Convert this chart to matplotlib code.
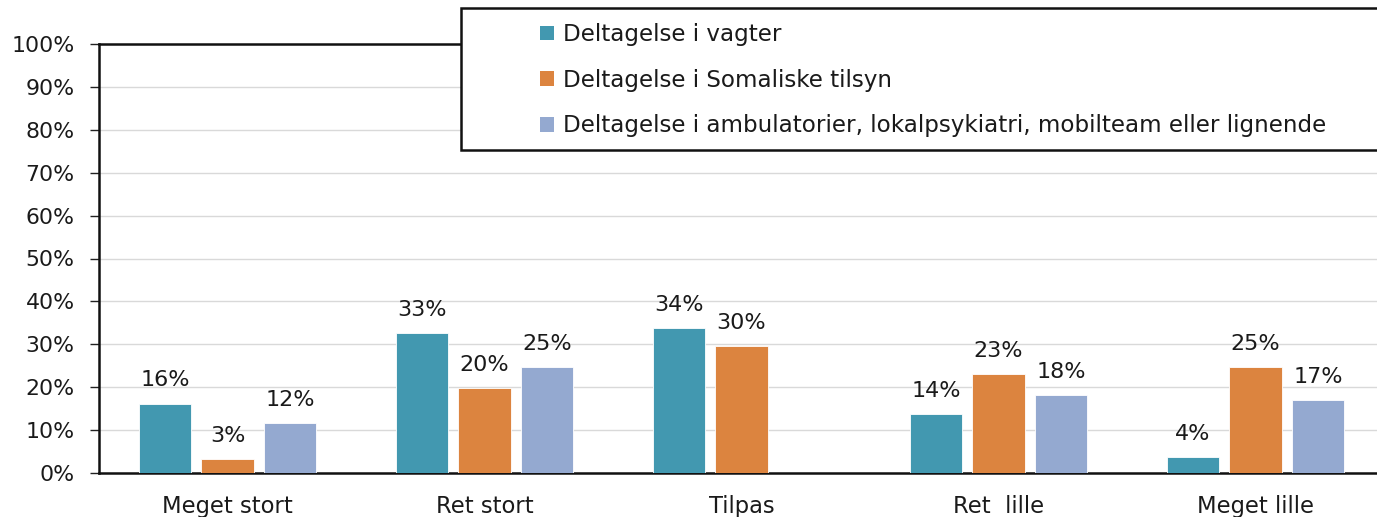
import numpy as np
import matplotlib
matplotlib.use("Agg")
import matplotlib.pyplot as plt
from matplotlib.patches import Patch, Rectangle

categories = ["Meget stort", "Ret stort", "Tilpas", "Ret  lille", "Meget lille"]
series_names = [
    "Deltagelse i vagter",
    "Deltagelse i Somaliske tilsyn",
    "Deltagelse i ambulatorier, lokalpsykiatri, mobilteam eller lignende",
]
vagter = [16.2, 32.6, 33.8, 13.8, 3.8]
tilsyn = [3.3, 19.7, 29.6, 23.0, 24.7]
ambulatorier = [11.7, 24.6, np.nan, 18.1, 16.9]
yticks = list(range(0, 101, 10))
colors = ["#4298B0", "#DC843F", "#94A9D0"]

plt.rcParams['font.family'] = ['DejaVu Sans']
W, H = 1377, 517
fig = plt.figure(figsize=(W / 100, H / 100), dpi=100)
ax = fig.add_axes([99 / W, 1 - 473 / H, (1384 - 99) / W, (473 - 44) / H])

x = np.arange(len(categories))
width = 0.203
offset = 0.243
for i, (vals, c) in enumerate(zip([vagter, tilsyn, ambulatorier], colors)):
    pos = x + (i - 1) * offset
    v = np.array(vals, dtype=float)
    ax.bar(pos, v, width, color=c, zorder=3, edgecolor='white', linewidth=0.6)
    for p, val in zip(pos, v):
        if np.isnan(val):
            continue
        ax.annotate(f"{val:.0f}%", (p, val), xytext=(0, 9.5), textcoords='offset points',
                    ha='center', va='bottom', fontsize=16, color='#1a1a1a')

ax.set_xlim(-0.5, 4.5)
ax.set_ylim(0, 100)
ax.set_yticks(yticks)
ax.set_yticklabels([f"{t}%" for t in yticks])
ax.set_xticks(x)
ax.set_xticklabels(categories)
ax.tick_params(axis='y', length=6.5, width=1, color='#222222', pad=11, labelsize=15.8, labelcolor='#1a1a1a')
ax.tick_params(axis='x', length=0, pad=16, labelsize=16.3, labelcolor='#1a1a1a')
ax.grid(axis='y', color='#D9D9D9', linewidth=1, zorder=0)
ax.set_axisbelow(True)
for s in ['left', 'bottom', 'top']:
    ax.spines[s].set_linewidth(1.8)
    ax.spines[s].set_color('#111111')
ax.spines['right'].set_visible(False)

rect = Rectangle((461 / W, 1 - 150 / H), (1400 - 461) / W, (150 - 8) / H,
                 transform=fig.transFigure, facecolor='white', edgecolor='#111111',
                 linewidth=1.8, zorder=4)
fig.patches.append(rect)

handles = [Patch(facecolor=c, edgecolor='none') for c in colors]
leg = fig.legend(handles, series_names, loc='upper left',
                 bbox_to_anchor=(531 / W, 1 - 14 / H), frameon=False,
                 fontsize=16.6, handlelength=0.6, handleheight=0.6,
                 handletextpad=0.4, labelspacing=0.98, borderaxespad=0)
leg.set_zorder(5)
for t in leg.get_texts():
    t.set_color('#1a1a1a')

fig.savefig("out.png", dpi=100)
